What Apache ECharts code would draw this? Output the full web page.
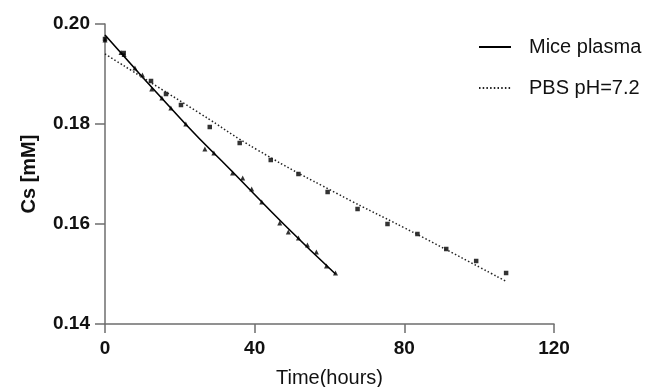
<!DOCTYPE html>
<html>
<head>
<meta charset="utf-8">
<script src="https://cdn.jsdelivr.net/npm/echarts@6/dist/echarts.min.js"></script>
<style>html,body{margin:0;padding:0;background:#fff}#c{width:648px;height:387px}</style>
</head>
<body>
<div id="c"></div>
<script>
// Measured points: Mice plasma
const miceTime = [0, 4.3, 5.1, 8, 10, 12.5, 15.2, 17.6, 21.6, 26.7, 29.1, 34.1, 36.8, 39.2, 41.9, 46.7, 49, 51.7, 54.1, 56.5, 59.2, 61.6];
const miceCs   = [0.1968, 0.1943, 0.1939, 0.1912, 0.1898, 0.1870, 0.1852, 0.1832, 0.1800, 0.1750, 0.1742, 0.1702, 0.1692, 0.1670, 0.1644, 0.1602, 0.1584, 0.1572, 0.1558, 0.1544, 0.1516, 0.1502];
// Measured points: PBS pH=7.2
const pbsTime = [0, 5, 12.3, 16.3, 20.3, 28, 36, 44.3, 51.7, 59.5, 67.5, 75.5, 83.5, 91.2, 99.2, 107.2];
const pbsCs   = [0.1970, 0.1942, 0.1886, 0.1860, 0.1838, 0.1794, 0.1762, 0.1728, 0.1700, 0.1664, 0.1630, 0.1600, 0.1580, 0.1550, 0.1526, 0.1502];
// Fitted curves
const miceFitTime = [0, 21.5, 34, 48, 61.6];
const miceFitCs   = [0.1978, 0.1800, 0.1705, 0.1598, 0.1500];
const pbsFitTime  = [0, 25, 41, 62, 84, 107];
const pbsFitCs    = [0.1940, 0.1823, 0.1747, 0.1661, 0.1577, 0.1486];
// Axis ticks
const xTicks = [0, 40, 80, 120];
const yTicks = [0.14, 0.16, 0.18, 0.20];

const zip = (a, b) => a.map((v, i) => [v, b[i]]);
const FONT = '"Liberation Sans", Arial, sans-serif';
const axisGray = '#6e6e6e';

const chart = echarts.init(document.getElementById('c'), null, {renderer: 'canvas'});
chart.setOption({
  animation: false,
  backgroundColor: '#fff',
  grid: {left: 105, right: 94, top: 24, bottom: 63, containLabel: false, outerBoundsMode: 'none'},
  legend: {
    orient: 'vertical',
    left: 478, top: 37, padding: 0,
    itemWidth: 32, itemHeight: 12, itemGap: 21,
    data: ['Mice plasma', 'PBS pH=7.2'],
    itemStyle: {opacity: 0},
    textStyle: {fontFamily: FONT, fontSize: 20, color: '#111', padding: [0, 0, 0, 13]}
  },
  xAxis: {
    type: 'value', min: xTicks[0], max: xTicks[xTicks.length - 1], interval: 40,
    name: 'Time(hours)', nameLocation: 'middle', nameGap: 44,
    nameTextStyle: {fontFamily: FONT, fontSize: 20, color: '#111'},
    axisLine: {lineStyle: {color: axisGray, width: 1.5}},
    axisTick: {show: true, length: 9, lineStyle: {color: axisGray, width: 1.5}},
    axisLabel: {fontFamily: FONT, fontSize: 19, fontWeight: 'bold', color: '#111', margin: 15},
    splitLine: {show: false}
  },
  yAxis: {
    type: 'value', min: yTicks[0], max: yTicks[yTicks.length - 1], interval: 0.02,
    name: 'Cs [mM]', nameLocation: 'middle', nameGap: 66, nameRotate: 90,
    nameTextStyle: {fontFamily: FONT, fontSize: 20, fontWeight: 'bold', color: '#111'},
    axisLine: {show: true, lineStyle: {color: axisGray, width: 1.5}},
    axisTick: {show: true, length: 10, lineStyle: {color: axisGray, width: 1.5}},
    axisLabel: {fontFamily: FONT, fontSize: 19, fontWeight: 'bold', color: '#111', margin: 15,
      formatter: v => v.toFixed(2)},
    splitLine: {show: false}
  },
  series: [
    {
      name: 'Mice plasma', type: 'line', data: zip(miceFitTime, miceFitCs),
      smooth: true, symbol: 'none', lineStyle: {color: '#000', width: 1.6}, itemStyle: {color: '#000'}
    },
    {
      name: 'PBS pH=7.2', type: 'line', data: zip(pbsFitTime, pbsFitCs),
      smooth: true, symbol: 'none', lineStyle: {color: '#222', width: 1.5, type: [1.5, 2.2]}, itemStyle: {color: '#222'}
    },
    {
      name: 'mice-pts', type: 'scatter', data: zip(miceTime, miceCs),
      symbol: 'triangle', symbolSize: 5, itemStyle: {color: '#000'}
    },
    {
      name: 'pbs-pts', type: 'scatter', data: zip(pbsTime, pbsCs),
      symbol: 'rect', symbolSize: 4.5, itemStyle: {color: '#000'}
    }
  ]
});
</script>
</body>
</html>
